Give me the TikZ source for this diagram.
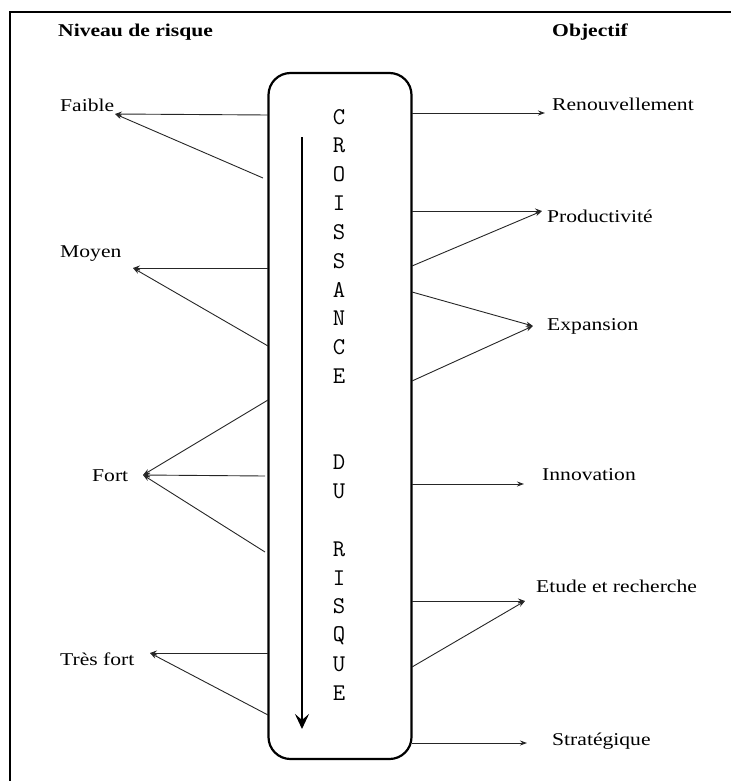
\documentclass[tikz,border=0pt]{standalone}
\usepackage{fontspec}
\setmainfont[FakeStretch=1.2]{Liberation Serif}
\usetikzlibrary{arrows.meta}
\begin{document}
\begin{tikzpicture}[x=1pt,y=-1pt,
  lbl/.style={anchor=west,inner sep=0pt,font=\fontsize{18}{20}\selectfont},
  head/.style={anchor=west,inner sep=0pt,font=\fontsize{18}{20}\selectfont\bfseries},
  letter/.style={inner sep=0pt,font=\fontsize{24}{26}\selectfont\ttfamily},
  conn/.style={line width=0.9pt,black!85,-{Stealth[length=7pt,width=5pt]}},
  mainbox/.style={draw,line width=2.2pt,rounded corners=22pt,minimum width=143pt,minimum height=686pt,inner sep=0pt},
  growth/.style={line width=2.4pt,-{Stealth[length=15pt,width=14pt,inset=6pt]}}]
\useasboundingbox (0,0) rectangle (731,781);
% outer frame (open at right and bottom)
\draw[line width=2pt] (10,781) -- (10,12) -- (731,12);

% column headings
\node[head] (hrisk) at (58,32) {Niveau de risque};
\node[head] (hobj) at (552,32) {Objectif};

% central rounded box
\node[mainbox] (box) at (340,416) {};

% vertical text inside the box
\foreach \c/\i [count=\k] in {C/0,R/1,O/2,I/3,S/4,S/5,A/6,N/7,C/8,E/9,D/12,U/13,R/15,I/16,S/17,Q/18,U/19,E/20}
  \node[letter] (ch\k) at (339,{117+28.8*\i}) {\c};

% growth arrow
\coordinate (ga) at (302,137);
\coordinate (gb) at (302,729);
\draw[growth] (ga) -- (gb);

% risk levels (left)
\node[lbl] (faible) at (60,105) {Faible};
\node[lbl] (moyen) at (60,254) {Moyen};
\node[lbl] (fort) at (92,476) {Fort};
\node[lbl] (tresfort) at (60,659) {Très fort};

\coordinate (tF) at (115,114);
\coordinate (tM) at (133,268);
\coordinate (tT) at (143,475);
\coordinate (tV) at (150,653);

\coordinate (lF1) at (268,115);
\coordinate (lF2) at (263,178);
\coordinate (lM1) at (268,268);
\coordinate (lM2) at (268,346);
\coordinate (lT1) at (268,400);
\coordinate (lT2) at (265,476);
\coordinate (lT3) at (265,552);
\coordinate (lV1) at (268,653);
\coordinate (lV2) at (268,715);

\foreach \s/\t in {lF1/tF,lF2/tF,lM1/tM,lM2/tM,lT1/tT,lT2/tT,lT3/tT,lV1/tV,lV2/tV}
  \draw[conn] (\s) -- (\t);

% objectives (right)
\node[lbl] (renouv) at (552,104) {Renouvellement};
\node[lbl] (prod) at (547,216) {Productivité};
\node[lbl] (expan) at (547,326) {Expansion};
\node[lbl] (innov) at (542,475) {Innovation};
\node[lbl] (etude) at (536,586) {Etude et recherche};
\node[lbl] (strat) at (552,741) {Stratégique};

\coordinate (rR1) at (412,113);
\coordinate (rP1) at (412,211);
\coordinate (rP2) at (412,266);
\coordinate (rE1) at (412,292);
\coordinate (rE2) at (412,381);
\coordinate (rI1) at (412,484);
\coordinate (rD1) at (412,601);
\coordinate (rD2) at (412,667);
\coordinate (rS1) at (412,743);

\coordinate (tR) at (545,113);
\coordinate (tP) at (542,211);
\coordinate (tE) at (533,326);
\coordinate (tI) at (524,484);
\coordinate (tD) at (525,601);
\coordinate (tS) at (527,743);

\foreach \s/\t in {rR1/tR,rP1/tP,rP2/tP,rE1/tE,rE2/tE,rI1/tI,rD1/tD,rD2/tD,rS1/tS}
  \draw[conn] (\s) -- (\t);
\end{tikzpicture}
\end{document}
